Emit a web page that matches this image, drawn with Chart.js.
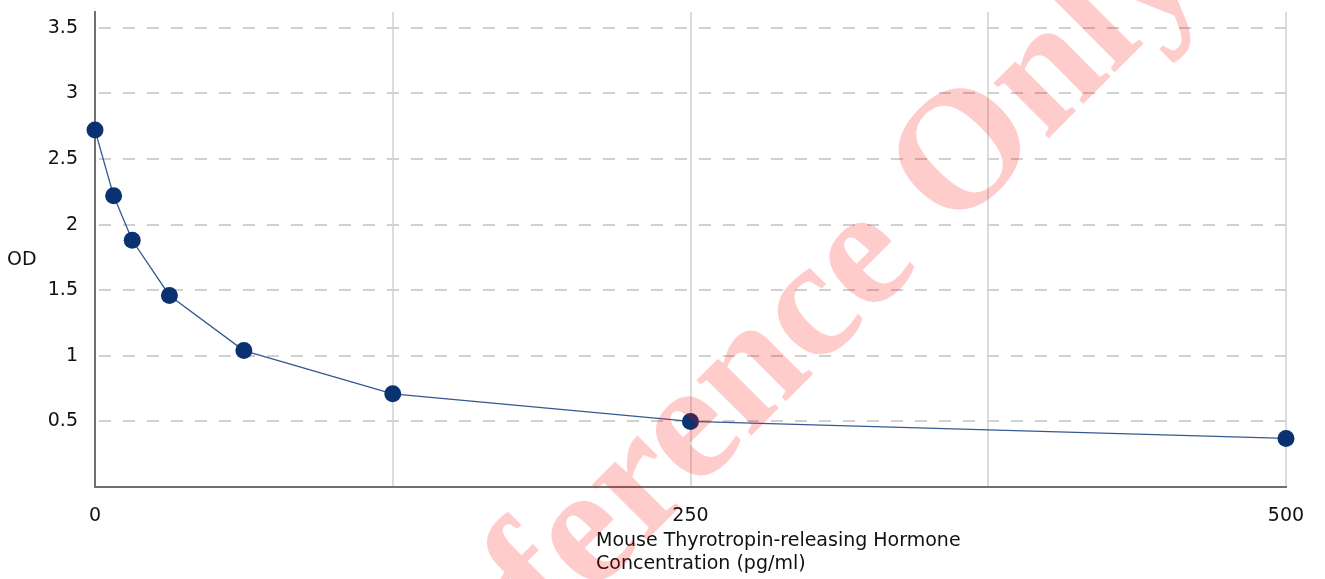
<!DOCTYPE html>
<html>
<head>
<meta charset="utf-8">
<script src="https://cdn.jsdelivr.net/npm/chart.js@4.4.0/dist/chart.umd.min.js"></script>
<style>
    body { margin: 0; background: #fff; }
    #wrap { width: 1325px; height: 579px; position: relative; }
</style>
</head>
<body>
<div id="wrap"><canvas id="stdCurve"></canvas></div>
<script>
// standard curve values
const concentrations = [0, 7.8125, 15.625, 31.25, 62.5, 125, 250, 500];
const odValues = [2.72, 2.22, 1.88, 1.46, 1.04, 0.71, 0.50, 0.37];
const xLabelTicks = [0, 250, 500];
const yTickValues = [0.5, 1, 1.5, 2, 2.5, 3, 3.5];
const xTitle = ['Mouse Thyrotropin-releasing Hormone', 'Concentration (pg/ml)'];
const yTitle = 'OD';
const watermark = 'Reference Only';

const ctx = document.getElementById('stdCurve').getContext('2d');

// axis titles + watermark, drawn straight on the canvas
const extraText = {
    id: 'extraText',
    afterDraw: function (chart) {
        const c = chart.ctx;
        c.save();
        c.font = '19px "DejaVu Sans"';
        c.fillStyle = '#111';
        c.textAlign = 'left';
        c.textBaseline = 'middle';
        c.fillText(yTitle, 7, 260);
        xTitle.forEach(function (line, i) {
            c.fillText(line, 596, 541 + i * 23.5);
        });

        c.translate(808, 379);
        c.rotate(-Math.PI / 4);
        c.font = 'bold 170px "Liberation Serif"';
        c.fillStyle = 'rgba(255, 0, 0, 0.2)';
        c.textAlign = 'center';
        c.textBaseline = 'alphabetic';
        c.fillText(watermark, 0, 0);
        c.restore();
    }
};

const stdChart = new Chart(ctx, {
    type: 'scatter',
    data: {
        datasets: [{
            data: concentrations.map((x, i) => ({ x: x, y: odValues[i] })),
            showLine: true,
            clip: false,
            borderColor: '#34598f',
            borderWidth: 1.3,
            backgroundColor: '#0b3270',
            pointBackgroundColor: '#0b3270',
            pointBorderWidth: 0,
            pointRadius: 8.5,
            tension: 0
        }]
    },
    options: {
        responsive: true,
        maintainAspectRatio: false,
        animation: false,
        layout: { padding: { top: 12, right: 39, left: 0, bottom: 0 } },
        plugins: {
            legend: { display: false },
            tooltip: { enabled: false }
        },
        scales: {
            x: {
                type: 'linear',
                min: 0,
                max: 500,
                afterFit: function (scale) {
                    scale.height = 92;
                    scale.paddingLeft = 0;
                    scale.paddingRight = 0;
                },
                ticks: {
                    stepSize: 125,
                    padding: 18,
                    maxRotation: 0,
                    color: '#111',
                    font: { family: 'DejaVu Sans', size: 19 },
                    callback: function (v) { return xLabelTicks.includes(v) ? String(v) : ''; }
                },
                grid: { color: '#dcdcdc', lineWidth: 2, drawTicks: false },
                border: { color: '#707070', width: 2 }
            },
            y: {
                type: 'linear',
                min: 0,
                max: 3.62,
                afterFit: function (scale) {
                    scale.width = 95;
                    scale.paddingTop = 0;
                    scale.paddingBottom = 0;
                },
                afterBuildTicks: function (scale) {
                    scale.ticks = yTickValues.map(v => ({ value: v }));
                },
                ticks: {
                    padding: 17,
                    color: '#111',
                    font: { family: 'DejaVu Sans', size: 19 },
                    callback: function (v) { return String(v); }
                },
                grid: { color: '#d0d0d0', lineWidth: 2, drawTicks: false },
                border: { color: '#707070', width: 2, dash: [12, 12], dashOffset: -3 }
            }
        }
    },
    plugins: [extraText]
});
</script>
</body>
</html>
